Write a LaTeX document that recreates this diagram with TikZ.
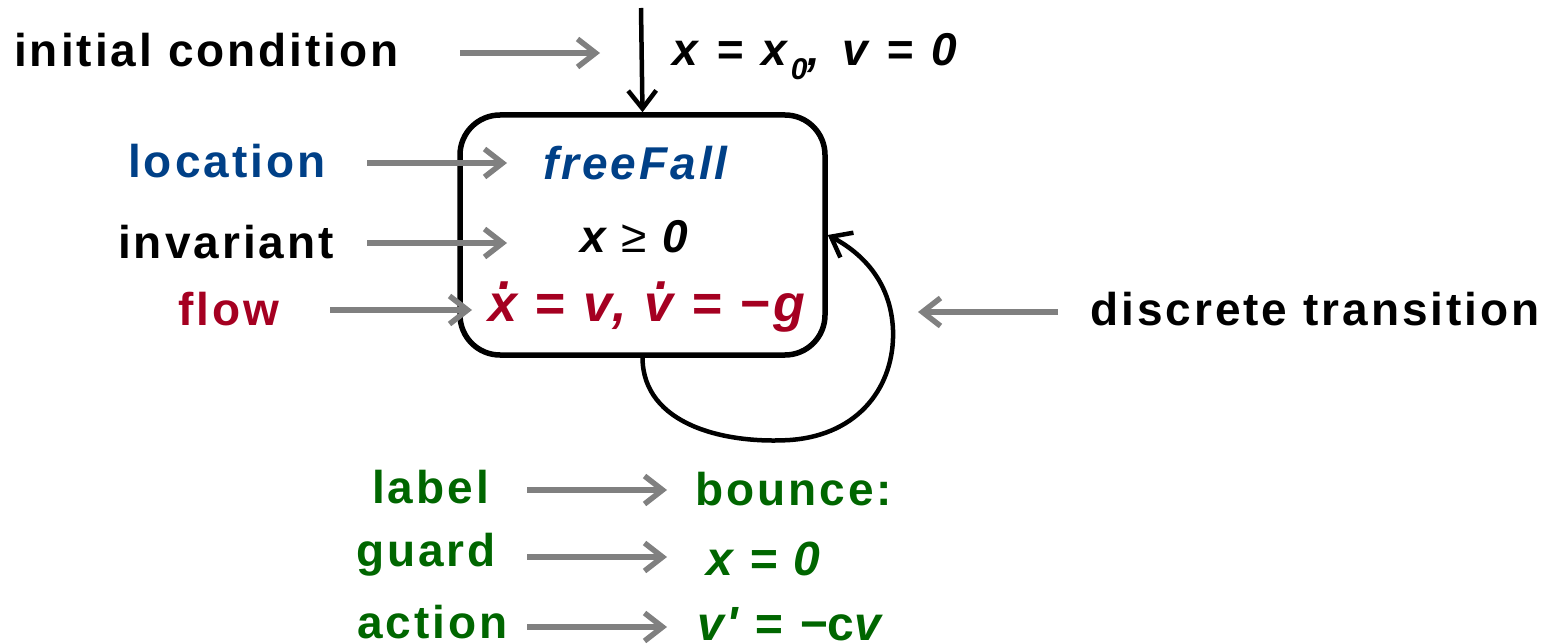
\documentclass[tikz,border=0pt]{standalone}
\usepackage{fontspec}
\setmainfont{Liberation Sans}
\newfontfamily\labfont[LetterSpace=6.5]{Liberation Sans}
\newfontfamily\wideofont[LetterSpace=12]{Liberation Sans}
\usetikzlibrary{arrows.meta}
\definecolor{locblue}{RGB}{0,64,135}
\definecolor{flowred}{RGB}{165,0,33}
\definecolor{edgegreen}{RGB}{0,102,0}
\definecolor{ptrgray}{RGB}{128,128,128}
\newcommand\dotacc[1]{\ooalign{#1\cr\hidewidth\kern0.12em\raisebox{0.62em}{.}\hidewidth\cr}}
\begin{document}
\begin{tikzpicture}[x=1pt,y=-1pt,
  lab/.style={anchor=base west, inner sep=0pt, font=\labfont\bfseries\fontsize{46}{50}\selectfont},
  mth/.style={anchor=base west, inner sep=0pt, font=\labfont\bfseries\itshape\fontsize{46}{50}\selectfont},
  ptr/.style={draw=ptrgray, line width=5.5pt, -{Straight Barb[length=18pt,width=28pt]}},
  blk/.style={draw=black, line width=4.5pt, -{Straight Barb[length=18pt,width=28pt]}},
  locbox/.style={draw=black, line width=5.5pt, rounded corners=40pt, minimum width=365pt, minimum height=240pt, inner sep=0pt}
]
\path[use as bounding box] (0,0) rectangle (1558,644);

% location box
\node[locbox] (loc) at (642.5,235) {};

% labels
\node[lab] (linit) at (14,67) {initial condition};
\node[lab, text=locblue] (lloc) at (128,178) {location};
\node[lab] (linv) at (118,259) {invariant};
\node[lab, text=flowred] (lflow) at (178,326) {flow};
\node[lab] (ldisc) at (1090,325) {discrete transition};
\node[lab, text=edgegreen] (llabel) at (372,503) {label};
\node[lab, text=edgegreen] (lguard) at (356,566) {guard};
\node[lab, text=edgegreen] (laction) at (357,638) {action};

% contents
\node[mth, font=\wideofont\bfseries\itshape\fontsize{46}{50}\selectfont] (init) at (672,66)
  {x = x\hspace{4pt}\raisebox{-0.3em}{\fontsize{30}{32}\selectfont 0}, \hspace{4pt}v = 0};
\node[mth, text=locblue] (name) at (543,180) {freeFall};
\node[mth] (inv) at (580,253) {x {\upshape\mdseries ≥} 0};
\node[mth, text=flowred, font=\labfont\bfseries\itshape\fontsize{52}{56}\selectfont] (flw) at (488,322)
  {\dotacc{x} = v, \dotacc{v} = −g};
\node[lab, text=edgegreen] (elabel) at (695,505) {bounce:};
\node[mth, text=edgegreen, font=\labfont\bfseries\itshape\fontsize{48}{52}\selectfont] (eguard) at (706,575) {x = 0};
\node[mth, text=edgegreen, font=\labfont\bfseries\itshape\fontsize{48}{52}\selectfont] (eaction) at (697,640) {v' = −{\upshape c}v};

% initial arrow
\coordinate (istart) at (641,8);
\draw[blk] (istart) -- (loc.north);

% self loop
\coordinate (c1) at (790,440);
\coordinate (c2) at (893,330);
\draw[blk] (loc.south) .. controls (643,425) and (725,444) .. (c1)
  .. controls (860,435) and (895,385) .. (c2)
  .. controls (891,280) and (860,252) .. (loc.east);

% gray pointers
\coordinate (p1a) at (460,53);  \coordinate (p1b) at (600,53);
\coordinate (p2a) at (367,163); \coordinate (p2b) at (507,163);
\coordinate (p3a) at (367,243); \coordinate (p3b) at (507,243);
\coordinate (p4a) at (330,310); \coordinate (p4b) at (472,310);
\coordinate (p5a) at (1058,312); \coordinate (p5b) at (918,312);
\coordinate (p6a) at (527,490); \coordinate (p6b) at (667,490);
\coordinate (p7a) at (527,557); \coordinate (p7b) at (667,557);
\coordinate (p8a) at (527,627); \coordinate (p8b) at (667,627);
\draw[ptr] (p1a) -- (p1b);
\draw[ptr] (p2a) -- (p2b);
\draw[ptr] (p3a) -- (p3b);
\draw[ptr] (p4a) -- (p4b);
\draw[ptr] (p5a) -- (p5b);
\draw[ptr] (p6a) -- (p6b);
\draw[ptr] (p7a) -- (p7b);
\draw[ptr] (p8a) -- (p8b);
\end{tikzpicture}
\end{document}
